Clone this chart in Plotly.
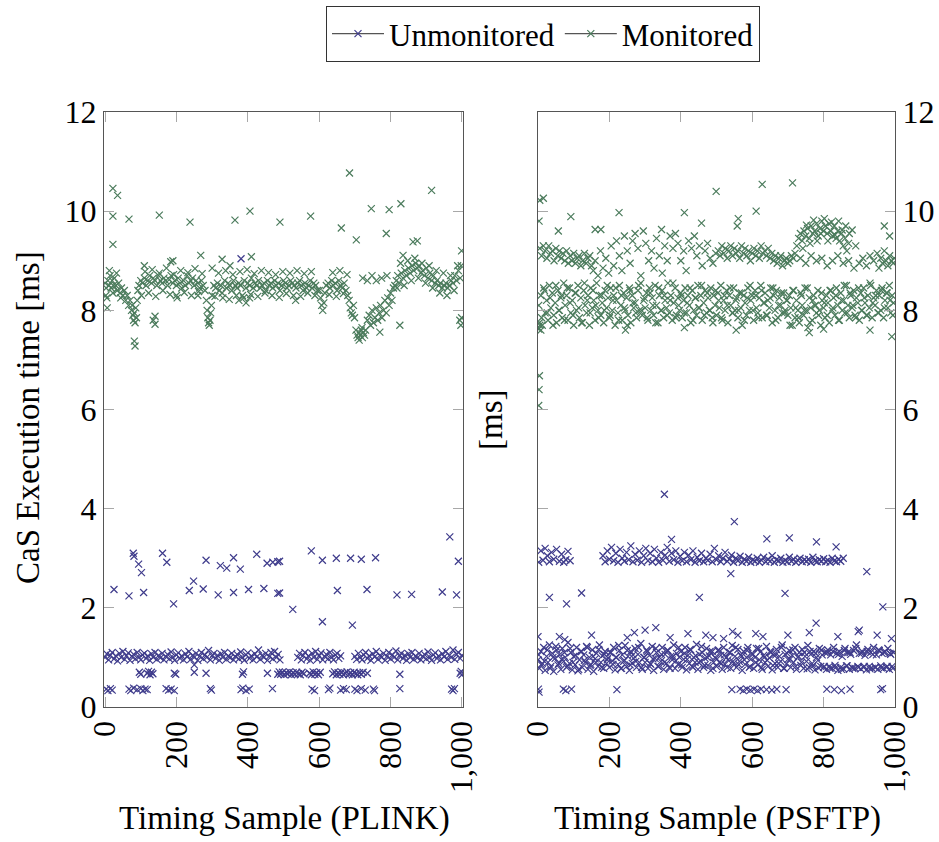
import plotly.graph_objects as go

# ---------------- data ----------------
xtick_vals = [0, 200, 400, 600, 800, 1000]
xtick_text = ["0", "200", "400", "600", "800", "1,000"]
ytick_vals = [0, 2, 4, 6, 8, 10, 12]

# PLINK - Unmonitored
plink_unmon_band = [
    (0,1.00),(5,1.07),(10,0.95),(15,1.04),(20,1.10),(25,0.97),(30,1.03),(35,0.93),(40,1.08),(45,1.00),
    (50,1.12),(55,0.96),(60,1.03),(65,1.09),(70,0.94),(75,1.02),(80,1.06),(85,0.97),(90,1.10),(95,1.00),
    (100,0.95),(105,1.05),(110,1.08),(115,0.98),(120,1.03),(125,0.94),(130,1.07),(135,1.00),(140,1.10),(145,0.96),
    (150,1.04),(155,0.99),(160,1.08),(165,0.95),(170,1.02),(175,1.06),(180,0.97),(185,1.11),(190,1.00),(195,0.94),
    (200,1.05),(205,1.09),(210,0.98),(215,1.03),(220,0.95),(225,1.07),(230,1.01),(235,1.12),(240,0.96),(245,1.04),
    (250,1.00),(255,1.08),(260,0.94),(265,1.02),(270,1.10),(275,0.97),(280,1.05),(285,1.00),(290,1.14),(295,0.95),
    (300,1.03),(305,1.08),(310,0.98),(315,1.04),(320,0.94),(325,1.07),(330,1.00),(335,1.10),(340,0.96),(345,1.03),
    (350,0.99),(355,1.08),(360,0.95),(365,1.02),(370,1.06),(375,0.97),(380,1.11),(385,1.00),(390,0.94),(395,1.05),
    (400,1.09),(405,0.98),(410,1.03),(415,0.95),(420,1.07),(425,1.01),(430,1.15),(435,0.96),(440,1.04),(445,1.00),
    (450,1.08),(455,0.94),(460,1.02),(465,1.10),(470,0.97),(475,1.12),(480,1.00),(485,1.06),(490,0.95),
    (540,1.00),(545,1.08),(550,0.95),(555,1.04),(560,1.10),(565,0.97),(570,1.03),(575,0.94),(580,1.08),(585,1.00),
    (590,1.12),(595,0.96),(600,1.03),(605,1.09),(610,0.95),(615,1.02),(620,1.06),(625,0.97),(630,1.10),(635,1.00),
    (640,0.95),(645,1.05),(650,1.08),(655,0.98),(660,1.03),
    (700,1.02),(705,0.96),(710,1.08),(715,1.00),(720,0.95),(725,1.05),(730,1.10),(735,0.98),(740,1.03),(745,0.94),
    (750,1.07),(755,1.01),(760,1.12),(765,0.96),(770,1.04),(775,1.00),(780,1.08),(785,0.94),(790,1.02),(795,1.10),
    (800,0.97),(805,1.05),(810,1.00),(815,1.13),(820,0.95),(825,1.03),(830,1.08),(835,0.98),(840,1.04),(845,0.94),
    (850,1.07),(855,1.00),(860,1.10),(865,0.96),(870,1.03),(875,0.99),(880,1.08),(885,0.95),(890,1.02),(895,1.06),
    (900,0.97),(905,1.11),(910,1.00),(915,0.94),(920,1.05),(925,1.09),(930,0.98),(935,1.03),(940,0.95),(945,1.07),
    (950,1.01),(955,1.12),(960,0.96),(965,1.04),(970,1.00),(975,1.15),(980,0.96),(985,1.06),(990,1.10),(995,0.98),(1000,1.04),
]
plink_unmon_mid = [
    (96,0.70),(100,0.66),(118,0.68),(122,0.72),(126,0.65),(130,0.70),(134,0.67),(194,0.68),(198,0.66),(250,0.70),
    (250,0.85),(283,0.68),(385,0.66),(388,0.71),(455,0.68),(484,0.66),(488,0.71),
    (492,0.66),(497,0.70),(502,0.65),(507,0.69),(512,0.67),(517,0.71),(522,0.65),(527,0.69),(532,0.66),(537,0.70),
    (542,0.67),(547,0.65),(552,0.70),(557,0.67),
    (573,0.68),(578,0.65),(583,0.71),(588,0.66),(593,0.69),(598,0.65),(603,0.70),
    (638,0.67),(643,0.71),(648,0.65),(653,0.69),(658,0.66),(663,0.70),(668,0.65),(673,0.68),(678,0.71),(683,0.66),
    (688,0.69),(693,0.65),(698,0.70),(703,0.67),(708,0.65),(713,0.69),(718,0.66),(723,0.70),(735,0.68),
    (826,0.66),(995,0.68),(998,0.72),(1000,0.65),
]
plink_unmon_low = [
    (3,0.36),(8,0.33),(15,0.37),(20,0.34),(67,0.36),(72,0.33),(80,0.38),(90,0.35),(100,0.37),(106,0.33),
    (112,0.36),(118,0.35),(171,0.37),(178,0.34),(185,0.36),(194,0.33),(295,0.37),(298,0.34),(381,0.35),(386,0.38),
    (395,0.33),(404,0.36),(469,0.37),(580,0.36),(587,0.33),(626,0.35),(630,0.38),(660,0.34),(668,0.37),(676,0.35),
    (700,0.36),(706,0.33),(718,0.37),(729,0.34),(752,0.36),(755,0.33),(826,0.37),(971,0.36),(975,0.33),(979,0.37),
]
plink_unmon_out = [
    (79,3.10),(81,3.04),(94,2.88),(102,2.71),(161,3.10),(173,2.92),(25,2.37),(67,2.24),(108,2.31),(192,2.08),
    (236,2.35),(248,2.54),(275,2.38),(283,2.96),(317,2.26),(323,2.85),(341,2.80),(360,3.01),(379,2.78),(360,2.31),
    (402,2.37),(425,3.08),(445,2.39),(454,2.90),(470,2.92),(484,2.93),(484,2.29),(489,2.94),(489,2.30),(526,1.97),
    (578,3.15),(609,2.96),(648,3.00),(609,1.72),(651,2.35),(688,3.00),(693,1.65),(718,2.98),(734,2.37),(758,3.01),
    (818,2.26),(859,2.27),(945,2.32),(966,3.43),(990,2.94),(985,2.26),(381,9.04),
]

# PLINK - Monitored
plink_mon_band = [
    (0,8.55),(3,8.45),(5,8.25),(6,8.05),(8,8.60),(11,8.50),(14,8.70),(17,8.45),(20,8.60),(23,8.50),(26,8.65),
    (30,8.50),(34,8.40),(38,8.55),(42,8.35),(46,8.45),(50,8.30),(54,8.40),(58,8.20),(62,8.30),(66,8.10),(70,8.20),
    (74,8.00),(76,8.10),(78,7.90),(80,7.80),(82,7.95),(84,7.75),(86,8.05),(88,7.85),(90,8.20),(92,8.40),
    (95,8.50),(100,8.60),(105,8.55),(110,8.65),(115,8.50),(120,8.60),(125,8.70),(130,8.55),(135,8.65),(140,8.60),
    (145,8.50),(150,8.70),(155,8.60),(160,8.55),(165,8.65),(170,8.60),(175,8.50),(180,8.62),(185,8.70),(190,8.55),
    (195,8.60),(200,8.50),(205,8.65),(210,8.55),(215,8.45),(220,8.60),(225,8.50),(230,8.70),(235,8.55),(240,8.60),
    (245,8.65),(250,8.50),(255,8.60),(260,8.55),(265,8.45),(270,8.60),(275,8.50),(280,8.40),(200,8.30),(260,8.30),
    (284,8.20),(286,8.00),(288,7.85),(290,7.75),(292,7.70),(294,7.80),(296,7.95),(298,8.10),(300,8.30),
    (305,8.50),(310,8.45),(315,8.55),(320,8.40),(325,8.50),(330,8.25),(335,8.60),(340,8.45),(345,8.55),(350,8.50),
    (355,8.40),(360,8.60),(365,8.50),(370,8.45),(375,8.55),(380,8.50),(385,8.30),(390,8.60),(395,8.45),(400,8.55),
    (405,8.50),(410,8.65),(415,8.45),(420,8.55),(425,8.50),(430,8.60),(435,8.45),(440,8.50),(445,8.55),(450,8.40),
    (455,8.60),(460,8.50),(465,8.55),(470,8.45),(475,8.60),(480,8.50),(485,8.55),(490,8.40),(495,8.50),(500,8.60),
    (505,8.55),(510,8.45),(515,8.50),(520,8.60),(525,8.55),(530,8.50),(535,8.45),(540,8.55),(545,8.60),(550,8.50),
    (555,8.40),(560,8.55),(565,8.45),(570,8.50),(575,8.60),(580,8.45),(585,8.55),(590,8.50),(595,8.40),
    (375,8.20),(395,8.15),(405,8.25),
    (600,8.40),(604,8.25),(607,8.10),(610,8.00),(613,8.15),(616,8.35),(620,8.50),
    (625,8.55),(630,8.45),(635,8.60),(640,8.50),(645,8.55),(650,8.40),(655,8.60),(660,8.50),(665,8.45),(670,8.55),
    (675,8.40),(680,8.30),(684,8.20),(687,8.05),(690,7.95),(693,7.90),(696,8.10),(699,7.85),
    (703,7.60),(706,7.50),(709,7.45),(712,7.55),(715,7.50),(718,7.60),(721,7.45),(724,7.55),(727,7.50),(730,7.60),
    (712,7.40),(720,7.65),
    (735,7.80),(740,7.90),(744,7.70),(748,8.00),(752,7.75),(756,7.85),(760,8.05),(764,7.80),(768,7.95),(772,8.10),
    (776,7.85),(780,8.00),(784,8.20),(788,7.95),(792,8.25),(796,8.10),(800,8.35),(804,8.20),(808,8.45),
    (722,8.65),(735,8.60),(748,8.70),(760,8.60),(775,8.65),(790,8.70),
    (812,8.50),(816,8.60),(820,8.70),(825,8.55),(830,8.75),(835,8.65),(840,8.80),(845,8.70),(850,8.85),(855,8.75),
    (860,8.90),(865,8.80),(870,8.95),(875,8.85),(880,8.90),(885,8.75),(890,8.80),(895,8.70),(900,8.85),(905,8.65),
    (910,8.75),(915,8.60),(920,8.70),(925,8.55),(930,8.60),(935,8.50),(940,8.55),(945,8.45),(950,8.50),(955,8.55),
    (960,8.45),(965,8.50),(970,8.60),(975,8.55),(980,8.70),(985,8.60),(990,8.80),(995,8.65),(998,8.90),
    (994,7.80),(997,7.70),(999,7.85),
]
plink_mon_spread = [
    (2,8.30),(12,8.80),(22,8.35),(32,8.75),(44,8.25),(102,8.30),(112,8.78),(122,8.35),(132,8.82),(142,8.28),
    (152,8.75),(162,8.40),(172,8.85),(182,8.32),(192,8.72),(202,8.25),(212,8.80),(222,8.36),(232,8.76),(242,8.30),
    (252,8.84),(262,8.38),(272,8.74),(308,8.28),(318,8.75),(328,8.35),(338,8.80),(348,8.22),(358,8.72),(368,8.30),
    (378,8.78),(388,8.25),(398,8.82),(408,8.32),(418,8.74),(428,8.28),(438,8.80),(448,8.35),(458,8.76),(468,8.30),
    (478,8.72),(488,8.26),(498,8.78),(508,8.34),(518,8.75),(528,8.30),(538,8.80),(548,8.28),(558,8.74),(568,8.35),
    (578,8.78),(588,8.30),(628,8.32),(638,8.76),(648,8.28),(658,8.80),(668,8.34),(678,8.72),
    (818,8.45),(828,8.95),(838,8.50),(848,9.00),(858,8.60),(868,9.05),(878,8.65),(888,8.95),(898,8.55),(908,8.90),
    (918,8.45),(928,8.80),(938,8.35),(948,8.75),(958,8.30),(968,8.70),(978,8.40),(988,8.90),
]
plink_mon_out = [
    (22,10.46),(35,10.32),(22,9.90),(67,9.84),(152,9.92),(238,9.78),(22,9.33),(268,9.11),(328,9.03),(364,9.82),
    (406,10.00),(410,9.08),(490,9.78),(184,8.98),(190,9.00),(576,9.90),(685,10.77),(915,10.42),(746,10.05),(796,10.03),
    (829,10.15),(662,9.66),(704,9.42),(788,9.55),(863,9.38),(875,9.40),(835,9.11),(999,9.20),(534,8.20),(826,7.70),
    (770,7.56),(110,8.90),(300,8.85),(350,8.90),(135,7.80),(140,7.88),(140,7.72),(82,7.38),(84,7.28),
]

# PSFTP sample indices used for the dense bands
psftp_x = [
    0,4,8,12,16,20,24,28,32,36,40,44,48,52,56,60,64,68,72,76,80,84,88,92,96,
    100,104,108,112,116,120,124,128,132,136,140,144,148,152,156,160,164,168,172,176,180,184,188,192,196,
    200,204,208,212,216,220,224,228,232,236,240,244,248,252,256,260,264,268,272,276,280,284,288,292,296,
    300,304,308,312,316,320,324,328,332,336,340,344,348,352,356,360,364,368,372,376,380,384,388,392,396,
    400,404,408,412,416,420,424,428,432,436,440,444,448,452,456,460,464,468,472,476,480,484,488,492,496,
    500,504,508,512,516,520,524,528,532,536,540,544,548,552,556,560,564,568,572,576,580,584,588,592,596,
    600,604,608,612,616,620,624,628,632,636,640,644,648,652,656,660,664,668,672,676,680,684,688,692,696,
    700,704,708,712,716,720,724,728,732,736,740,744,748,752,756,760,764,768,772,776,780,784,788,792,796,
    800,804,808,812,816,820,824,828,832,836,840,844,848,852,856,860,864,868,872,876,880,884,888,892,896,
    900,904,908,912,916,920,924,928,932,936,940,944,948,952,956,960,964,968,972,976,980,984,988,992,996,
]
psftp_x_extra = [
    2,10,18,26,34,42,50,58,66,74,82,90,98,106,114,122,130,138,146,154,162,170,178,186,194,
    202,210,218,226,234,242,250,258,266,274,282,290,298,306,314,322,330,338,346,354,362,370,378,386,394,
    402,410,418,426,434,442,450,458,466,474,482,490,498,506,514,522,530,538,546,554,562,570,578,586,594,
    602,610,618,626,634,642,650,658,666,674,682,690,698,706,714,722,730,738,746,754,762,770,778,786,794,
    802,810,818,826,834,842,850,858,866,874,882,890,898,906,914,922,930,938,946,954,962,970,978,986,994,
]

# PSFTP - Unmonitored
psftp_unmon_main_y = [
    0.95,0.78,1.12,0.88,1.20,0.74,1.02,0.90,1.25,0.82,1.08,0.72,0.98,1.15,0.85,1.05,0.76,1.18,0.92,1.00,0.80,1.30,0.88,1.10,0.75,
    1.02,0.85,1.20,0.73,0.95,1.12,0.80,1.05,0.90,1.22,0.76,1.00,0.86,1.15,0.72,0.97,1.08,0.82,1.25,0.90,1.03,0.78,1.12,0.88,0.99,
    0.80,1.10,0.93,1.20,0.75,1.00,0.86,1.14,0.78,1.05,0.92,1.24,0.82,1.02,0.74,1.12,0.88,0.98,1.18,0.80,1.06,0.90,1.28,0.76,1.00,
    0.90,1.15,0.78,1.04,0.86,1.22,0.74,0.98,1.10,0.82,1.00,0.92,1.20,0.76,1.06,0.88,1.14,0.80,1.02,0.95,1.25,0.78,1.08,0.86,1.00,
    1.12,0.80,0.96,1.20,0.75,1.04,0.88,1.15,0.82,1.00,0.90,1.26,0.76,1.06,0.92,1.10,0.80,0.98,1.18,0.84,1.03,0.74,1.12,0.90,1.00,
    0.82,1.14,0.90,1.04,0.76,1.20,0.86,1.00,0.95,1.10,0.78,1.24,0.88,1.02,0.80,1.16,0.92,1.05,0.74,1.12,0.86,1.00,1.20,0.80,0.96,
    1.08,0.78,1.00,1.18,0.85,0.95,1.12,0.76,1.04,0.90,1.22,0.82,0.99,1.10,0.75,1.05,0.88,1.16,0.80,1.02,0.92,1.25,0.78,1.06,0.87,
    0.96,1.14,0.80,1.04,0.90,1.20,0.76,1.00,1.10,0.84,1.16,0.78,1.02,0.92,1.24,0.80,1.06,0.88,1.12,0.75,1.00,0.94,1.18,0.82,1.05,
    0.80,1.10,0.76,1.15,0.82,1.05,0.78,1.20,0.84,1.08,0.74,1.12,0.80,1.02,0.77,1.18,0.83,1.10,0.76,1.06,0.80,1.14,0.78,1.25,0.82,
    1.08,0.77,1.12,0.80,1.04,0.75,1.16,0.82,1.10,0.78,1.20,0.80,1.05,0.76,1.14,0.83,1.08,0.78,1.12,0.80,1.18,0.76,1.06,0.82,1.10,
]
psftp_unmon_extra_y = [
    1.05,0.85,0.92,1.15,0.78,1.00,1.22,0.88,0.96,1.10,0.82,1.18,0.90,1.04,0.76,1.12,0.94,1.20,0.84,1.02,0.90,1.16,0.80,1.06,0.95,
    1.10,0.86,1.00,1.24,0.78,0.94,1.14,0.85,1.05,0.92,1.20,0.80,1.00,1.12,0.88,0.97,1.18,0.82,1.06,0.90,1.14,0.78,1.02,0.93,1.20,
    0.85,1.08,0.96,1.16,0.80,1.03,0.90,1.22,0.84,1.00,1.12,0.78,0.98,1.15,0.88,1.05,0.80,1.10,0.92,1.20,0.86,1.02,0.95,1.14,0.82,
    1.06,0.90,1.18,0.80,1.00,0.94,1.12,0.84,1.05,0.88,1.20,0.78,1.08,0.96,1.15,0.82,1.02,0.90,1.10,0.77,1.12,0.83,1.08,0.79,1.15,
    0.82,1.10,0.78,1.12,0.80,1.06,0.76,1.14,0.83,1.10,0.78,1.18,0.80,1.08,0.82,1.12,0.77,1.06,0.80,1.15,0.79,1.10,0.82,1.08,0.78,
]
psftp_unmon_fringe = [
    (0,1.42),(60,1.42),(75,1.36),(150,1.45),(250,1.40),(270,1.50),(300,1.55),(330,1.60),(370,1.40),(420,1.48),
    (470,1.45),(490,1.40),(520,1.38),(545,1.52),(560,1.45),(610,1.48),(630,1.42),(700,1.45),(760,1.50),(840,1.42),
    (900,1.55),(950,1.45),(990,1.38),
]
psftp_unmon_upper = [
    (2,2.92),(8,3.15),(14,2.96),(20,3.20),(26,3.05),(32,2.93),(38,3.12),(44,2.98),(52,3.18),(60,2.94),(66,3.08),
    (72,2.92),(78,2.97),(84,3.14),(90,2.95),
    (182,3.05),(188,2.93),(194,3.15),(200,2.98),(206,3.22),(212,2.95),(218,3.10),(224,2.92),(230,3.18),(236,3.00),
    (242,2.94),(248,3.12),(254,2.97),(260,3.25),(266,2.93),(272,3.08),(278,2.96),(284,3.15),(290,2.92),(296,3.05),
    (302,3.20),(308,2.95),(314,3.10),(320,2.93),(326,3.18),(332,3.00),(338,2.92),(344,3.12),(350,2.96),(356,3.06),
    (362,3.22),(368,2.94),(374,3.10),(380,2.97),(386,3.15),(392,2.92),(398,3.04),(404,2.95),(410,3.12),(416,2.93),
    (422,3.06),(428,2.97),(434,3.15),(440,2.92),(446,3.02),(452,2.95),(458,3.10),(464,2.93),(470,3.00),(476,2.96),
    (482,3.08),(488,2.93),(494,3.20),(500,2.97),(506,3.05),(512,2.93),(518,3.00),(524,3.12),(530,2.94),(536,2.98),
    (542,3.06),(548,2.92),(554,3.00),(560,2.95),(566,3.04),(572,2.92),(578,2.98),(584,2.94),(590,3.02),(596,2.92),
    (602,2.97),(608,2.94),(614,3.00),(620,2.92),(626,2.96),(632,3.02),(638,2.93),(644,2.98),(650,2.94),(656,3.05),
    (662,2.92),(668,2.97),(674,2.95),(680,3.00),(686,2.92),(692,2.96),(698,2.93),(704,3.02),(710,2.94),(716,2.98),
    (722,2.92),(728,2.96),(734,3.00),(740,2.93),(746,2.97),(752,2.94),(758,2.98),(764,2.92),(770,3.02),(776,2.95),
    (782,2.93),(788,2.97),(794,2.94),(800,2.99),(806,2.93),(812,2.96),(818,2.92),(824,3.00),(830,2.95),(836,2.93),
    (842,2.98),(848,2.94),(855,3.00),
]
psftp_unmon_out = [
    (354,4.29),(32,2.21),(80,2.08),(122,2.30),(452,2.21),(374,3.38),(550,3.74),(641,3.39),(704,3.41),(780,3.33),
    (835,3.23),(540,2.69),(692,2.29),(921,2.73),(966,2.02),(779,1.69),(897,1.52),
    (1,0.36),(3,0.30),(71,0.36),(78,0.33),(94,0.36),(221,0.35),(543,0.35),(566,0.36),(575,0.33),(585,0.36),
    (595,0.34),(605,0.36),(615,0.33),(625,0.36),(640,0.35),(655,0.34),(669,0.36),(695,0.35),(809,0.36),(830,0.35),
    (850,0.33),(874,0.36),(960,0.35),(965,0.37),
]

# PSFTP - Monitored
psftp_mon_low_y = [
    7.65,7.75,8.30,7.70,8.45,7.95,8.20,7.80,8.50,8.05,8.35,7.90,8.15,7.75,8.40,8.00,8.25,7.85,8.55,8.10,8.30,7.80,8.45,7.95,8.20,
    7.70,8.35,8.00,8.50,7.85,8.25,7.75,8.40,8.10,7.95,8.30,7.70,8.45,8.05,8.20,7.80,8.55,8.00,8.30,7.90,8.15,7.75,8.40,8.05,8.25,
    7.85,8.45,8.00,8.30,7.70,8.20,7.95,8.50,8.10,7.80,8.35,8.00,8.25,7.90,8.45,7.75,8.30,8.05,8.15,7.85,8.40,8.00,8.55,7.90,8.20,
    8.05,8.35,7.80,8.45,8.00,8.25,7.90,8.50,8.10,7.75,8.30,8.00,8.40,7.85,8.20,8.05,8.55,7.95,8.30,7.80,8.15,8.45,7.90,8.25,8.00,
    8.35,7.85,8.20,8.45,7.95,8.30,8.10,7.75,8.40,8.00,8.25,7.90,8.50,8.05,8.30,7.80,8.15,8.40,7.95,8.25,8.00,8.45,7.85,8.30,8.10,
    7.90,8.35,8.05,8.50,7.80,8.20,8.00,8.40,7.75,8.30,8.10,7.95,8.45,8.00,8.25,7.85,8.35,8.05,7.70,8.30,8.15,7.90,8.45,8.00,8.20,
    8.30,7.80,8.40,8.05,7.95,8.25,8.50,7.85,8.15,8.35,7.90,8.20,8.05,8.45,7.75,8.30,8.00,8.40,7.85,8.25,8.10,7.95,8.35,8.00,8.20,
    7.90,8.30,8.05,7.70,8.40,7.85,8.20,8.00,7.75,8.35,8.10,7.90,8.45,8.00,7.65,8.25,8.05,7.80,8.30,8.10,7.95,8.40,8.00,7.70,8.20,
    8.05,7.85,8.30,8.15,7.75,8.40,8.00,8.25,7.90,8.45,8.10,7.80,8.35,8.00,8.20,7.95,8.50,8.10,7.85,8.30,8.05,8.40,7.90,8.25,8.15,
    7.80,8.35,8.00,8.45,8.15,7.90,8.30,8.05,8.50,7.85,8.25,8.10,8.40,7.95,8.30,8.00,8.45,7.85,8.20,8.35,8.05,8.50,7.95,8.30,8.15,
]
psftp_mon_extra_y = [
    8.10,7.85,8.40,7.95,8.25,7.70,8.50,8.00,8.30,7.80,8.45,8.15,7.90,8.35,8.05,7.75,8.55,8.20,7.95,8.40,8.10,7.85,8.30,8.00,8.50,
    7.90,8.20,8.45,7.80,8.30,8.05,7.70,8.40,8.15,7.95,8.50,8.00,8.25,7.85,8.35,8.10,7.75,8.45,8.00,8.30,7.90,8.20,8.55,7.85,8.10,
    8.30,7.95,8.15,8.45,7.80,8.25,8.05,8.50,7.90,8.35,8.00,7.75,8.40,8.20,7.85,8.30,8.10,8.45,7.95,8.20,8.00,8.35,7.80,8.25,8.50,
    8.00,8.30,7.85,8.40,8.15,7.90,8.25,8.45,7.80,8.10,8.35,7.95,8.20,7.70,8.40,8.05,7.85,8.30,8.00,8.45,7.75,8.20,8.10,7.90,8.35,
    8.15,7.90,8.40,8.05,8.30,7.80,8.20,8.50,7.95,8.35,8.10,7.85,8.45,8.00,8.25,7.90,8.55,8.15,8.30,7.95,8.40,8.05,8.35,8.20,7.90,
]
psftp_mon_upper = [
    (5,9.25),(10,9.10),(15,9.30),(20,9.20),(25,9.05),(30,9.30),(35,9.15),(40,9.20),(45,9.00),(50,9.25),(55,9.10),
    (60,9.20),(65,9.05),(70,9.15),(75,9.00),(80,9.20),(85,8.95),(90,9.10),(95,9.00),(100,9.15),(105,8.95),(110,9.05),
    (115,9.10),(120,8.90),(125,9.00),(130,9.15),(135,8.95),(140,9.05),(145,9.10),(150,8.90),
    (155,8.80),(160,9.00),(168,8.70),(175,9.20),(182,8.85),(190,9.05),(198,8.75),(205,9.30),(212,8.90),(220,9.40),
    (228,9.10),(235,8.80),(242,9.50),(250,9.20),(258,8.95),(265,9.40),(272,9.55),(280,9.25),(288,8.70),(295,9.60),
    (302,9.35),(310,9.00),(318,9.20),(325,8.85),(332,9.45),(340,9.10),(348,8.75),(355,9.30),(362,9.00),(370,9.50),
    (378,9.25),(385,9.55),(392,9.35),(400,9.00),(408,9.20),(415,8.80),(422,9.40),(430,9.25),(438,9.50),(445,9.10),
    (452,9.30),(460,8.90),(468,9.20),(475,9.35),(482,9.05),(490,8.95),(498,9.15),
    (505,9.20),(510,9.10),(515,9.30),(520,9.15),(525,9.25),(530,9.05),(535,9.20),(540,9.30),(545,9.10),(550,9.25),
    (555,9.15),(560,9.20),(565,9.05),(570,9.30),(575,9.15),(580,9.25),(585,9.10),(590,9.20),(595,9.00),(600,9.15),
    (605,9.25),(610,9.10),(615,9.20),(620,9.05),(625,9.30),(630,9.15),(635,9.20),(640,9.10),(645,9.25),(650,9.05),
    (655,9.15),(660,9.00),(665,9.10),(670,8.95),(675,9.05),(680,9.10),(685,8.90),(690,9.00),(695,9.05),(700,8.95),
    (705,9.00),(710,9.10),(715,9.05),(720,9.15),
    (725,9.30),(730,9.45),(735,9.55),(740,9.40),(745,9.60),(750,9.50),(755,9.65),(760,9.45),(765,9.70),(770,9.55),
    (775,9.60),(780,9.75),(785,9.50),(790,9.65),(795,9.80),(800,9.60),(805,9.70),(810,9.55),(815,9.75),(820,9.60),
    (825,9.50),(830,9.70),(835,9.45),(840,9.60),(845,9.40),(850,9.55),(855,9.30),(860,9.45),(865,9.20),(870,9.35),
    (742,9.25),(752,9.72),(762,9.35),(772,9.82),(782,9.40),(792,9.55),(802,9.85),(812,9.40),(822,9.78),(832,9.52),
    (842,9.80),(852,9.62),(862,9.70),(872,9.55),(880,9.62),(890,9.30),
    (735,9.05),(750,8.95),(765,9.10),(780,9.00),(795,9.05),(810,8.90),(825,9.00),(840,9.10),(855,8.95),(870,9.00),
    (885,8.85),(900,8.95),(910,9.05),(920,8.90),(930,9.10),(940,9.00),(950,9.15),(955,8.85),(960,9.05),(965,8.95),
    (970,9.20),(975,9.00),(980,8.90),(985,9.10),(990,9.00),(995,8.95),(998,9.05),
]
psftp_mon_out = [
    (5,10.22),(15,10.26),(3,9.80),(57,9.60),(92,9.89),(227,9.97),(410,9.97),(499,10.40),(160,9.63),(176,9.63),
    (458,9.76),(346,9.63),(628,10.54),(713,10.57),(611,10.00),(561,9.85),(558,9.70),(2,6.08),(3,6.40),(4,6.68),
    (991,7.47),(245,7.60),(410,7.65),(555,7.60),(760,7.55),(800,7.62),(930,7.60),(970,9.70),(985,9.50),
    (2,7.62),(5,7.70),(8,7.60),
]

# ---------------- figure ----------------
def xs(pts):
    return [p[0] for p in pts]

def ys(pts):
    return [p[1] for p in pts]

BLUE = "#3f3c8c"
GREEN = "#4b7b5c"
FONT = "Liberation Serif"

def marks(x, y, color, xa, ya):
    return go.Scatter(
        x=x, y=y, mode="markers", xaxis=xa, yaxis=ya, showlegend=False,
        marker=dict(symbol="x-thin", size=7, color=color, line=dict(width=1.2, color=color)),
        hoverinfo="skip",
    )

fig = go.Figure()

pl_un = plink_unmon_band + plink_unmon_mid + plink_unmon_low + plink_unmon_out
pl_mo = plink_mon_band + plink_mon_spread + plink_mon_out
ps_un_x = psftp_x + psftp_x_extra + xs(psftp_unmon_fringe) + xs(psftp_unmon_upper) + xs(psftp_unmon_out)
ps_un_y = psftp_unmon_main_y + psftp_unmon_extra_y + ys(psftp_unmon_fringe) + ys(psftp_unmon_upper) + ys(psftp_unmon_out)
ps_mo_x = psftp_x + psftp_x_extra + xs(psftp_mon_upper) + xs(psftp_mon_out)
ps_mo_y = psftp_mon_low_y + psftp_mon_extra_y + ys(psftp_mon_upper) + ys(psftp_mon_out)

fig.add_trace(marks(xs(pl_un), ys(pl_un), BLUE, "x", "y"))
fig.add_trace(marks(xs(pl_mo), ys(pl_mo), GREEN, "x", "y"))
fig.add_trace(marks(ps_un_x, ps_un_y, BLUE, "x2", "y2"))
fig.add_trace(marks(ps_mo_x, ps_mo_y, GREEN, "x2", "y2"))

# legend entries
for name, color in [("Unmonitored", BLUE), ("Monitored", GREEN)]:
    fig.add_trace(go.Scatter(
        x=[None], y=[None], mode="lines+markers", name=name,
        line=dict(color="#555555", width=1.2),
        marker=dict(symbol="x-thin", size=7, color=color, line=dict(width=1.2, color=color)),
    ))

W, H = 939, 842
ydom = [(H - 707) / H, (H - 112) / H]

axis_common = dict(
    showline=True, linecolor="#555555", linewidth=1.4, mirror="ticks",
    ticks="inside", ticklen=10, tickwidth=1.4, tickcolor="#a8a8a8",
    showgrid=False, zeroline=False, automargin=False,
    tickfont=dict(family=FONT, size=32, color="black"),
)

fig.update_layout(
    width=W, height=H,
    margin=dict(l=0, r=0, t=0, b=0, autoexpand=False),
    paper_bgcolor="white", plot_bgcolor="white",
    font=dict(family=FONT, size=32, color="black"),
    xaxis=dict(domain=[104 / W, 463 / W], range=[-3, 1003], anchor="y",
               tickvals=xtick_vals, ticktext=xtick_text, tickangle=-90, **axis_common),
    yaxis=dict(domain=ydom, range=[0, 12], anchor="x", tickvals=ytick_vals, **axis_common),
    xaxis2=dict(domain=[538 / W, 895 / W], range=[0, 1000], anchor="y2",
                tickvals=xtick_vals, ticktext=xtick_text, tickangle=-90, **axis_common),
    yaxis2=dict(domain=ydom, range=[0, 12], anchor="x2", side="right",
                tickvals=ytick_vals, **axis_common),
    legend=dict(
        orientation="h", x=543 / W, xanchor="center", y=1 - 6 / H, yanchor="top",
        bordercolor="#333333", borderwidth=1, bgcolor="white",
        font=dict(family=FONT, size=31), itemwidth=52,
    ),
    annotations=[
        dict(text="CaS Execution time [ms]", x=28 / W, y=1 - 418 / H, xref="paper", yref="paper",
             textangle=-90, showarrow=False, xanchor="center", yanchor="middle",
             font=dict(family=FONT, size=33)),
        dict(text="[ms]", x=491 / W, y=1 - 420 / H, xref="paper", yref="paper",
             textangle=-90, showarrow=False, xanchor="center", yanchor="middle",
             font=dict(family=FONT, size=33)),
        dict(text="Timing Sample (PLINK)", x=284 / W, y=3 / H, xref="paper", yref="paper",
             showarrow=False, xanchor="center", yanchor="bottom", font=dict(family=FONT, size=33)),
        dict(text="Timing Sample (PSFTP)", x=717 / W, y=3 / H, xref="paper", yref="paper",
             showarrow=False, xanchor="center", yanchor="bottom", font=dict(family=FONT, size=33)),
    ],
)

# remove the default page margin so the 939x842 figure fills the window exactly
fig.write_html(
    "out.html",
    config={"displayModeBar": False},
    post_script="document.body.style.margin='0';",
)
